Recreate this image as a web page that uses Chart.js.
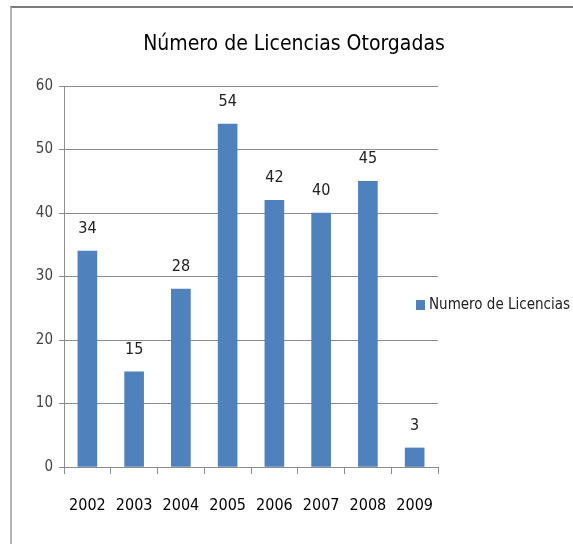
<!DOCTYPE html>
<html>
<head>
<meta charset="utf-8">
<script src="https://cdn.jsdelivr.net/npm/chart.js@4.4.1/dist/chart.umd.min.js"></script>
<style>
  html, body { margin: 0; padding: 0; background: #fff; }
  #wrap { position: relative; width: 573px; height: 544px; }
  #frame {
    position: absolute; left: 10px; top: 6px; right: 0; bottom: 0;
    border-top: 2px solid #7c7c7c; border-left: 2px solid #b4b4b4;
    pointer-events: none;
  }
</style>
</head>
<body>
<div id="wrap">
  <canvas id="grafico" width="573" height="544"></canvas>
  <div id="frame"></div>
</div>
<script>
const anios = ['2002', '2003', '2004', '2005', '2006', '2007', '2008', '2009'];
const licencias = [34, 15, 28, 54, 42, 40, 45, 3];
const serieNombre = 'Numero de Licencias';
const tituloTexto = 'Número de Licencias Otorgadas';

const FUENTE = "'DejaVu Sans Condensed', 'Liberation Sans', sans-serif";
const AZUL = '#4f81bd';
const GRIS = '#8c8c8c';

// etiquetas encima de cada barra
const etiquetas = {
  id: 'etiquetas',
  afterDatasetsDraw(chart) {
    const ctx = chart.ctx;
    const meta = chart.getDatasetMeta(0);
    ctx.save();
    ctx.font = '16px ' + FUENTE;
    ctx.fillStyle = '#222';
    ctx.textAlign = 'center';
    ctx.textBaseline = 'middle';
    meta.data.forEach((bar, i) => {
      ctx.fillText(String(chart.data.datasets[0].data[i]), bar.x, bar.y - 22);
    });
    ctx.restore();
  }
};

// titulo y leyenda dibujados a mano (la leyenda se solapa un poco con el area)
const extras = {
  id: 'extras',
  afterDraw(chart) {
    const ctx = chart.ctx;
    const ds = chart.data.datasets[0];
    ctx.save();
    ctx.font = '21px ' + FUENTE;
    ctx.fillStyle = '#000';
    ctx.textAlign = 'center';
    ctx.textBaseline = 'middle';
    ctx.fillText(tituloTexto, 294, 45);

    ctx.fillStyle = ds.backgroundColor;
    ctx.fillRect(416, 300, 9, 10);
    ctx.font = '15px ' + FUENTE;
    ctx.fillStyle = '#222';
    ctx.textAlign = 'left';
    ctx.fillText(ds.label, 429, 305);
    ctx.restore();
  }
};

new Chart(document.getElementById('grafico').getContext('2d'), {
  type: 'bar',
  data: {
    labels: anios,
    datasets: [{
      label: serieNombre,
      data: licencias,
      backgroundColor: AZUL,
      borderWidth: 0,
      barThickness: 19
    }]
  },
  options: {
    responsive: false,
    animation: false,
    layout: { padding: { left: 0, right: 135, top: 86, bottom: 0 } },
    plugins: {
      legend: { display: false },
      tooltip: { enabled: false },
      title: { display: false }
    },
    scales: {
      x: {
        grid: { drawOnChartArea: false, drawTicks: true, tickLength: 7, color: GRIS, offset: true },
        border: { color: GRIS, width: 1 },
        ticks: { color: '#000', font: { family: FUENTE, size: 16 }, padding: 22, maxRotation: 0 },
        afterFit(scale) { scale.height = 77; }
      },
      y: {
        min: 0,
        max: 60,
        ticks: { stepSize: 10, color: '#444', font: { family: FUENTE, size: 15 }, padding: 6 },
        grid: { color: GRIS, tickLength: 5 },
        border: { color: GRIS, width: 1 },
        afterFit(scale) { scale.width = 64; }
      }
    }
  },
  plugins: [etiquetas, extras]
});
</script>
</body>
</html>
